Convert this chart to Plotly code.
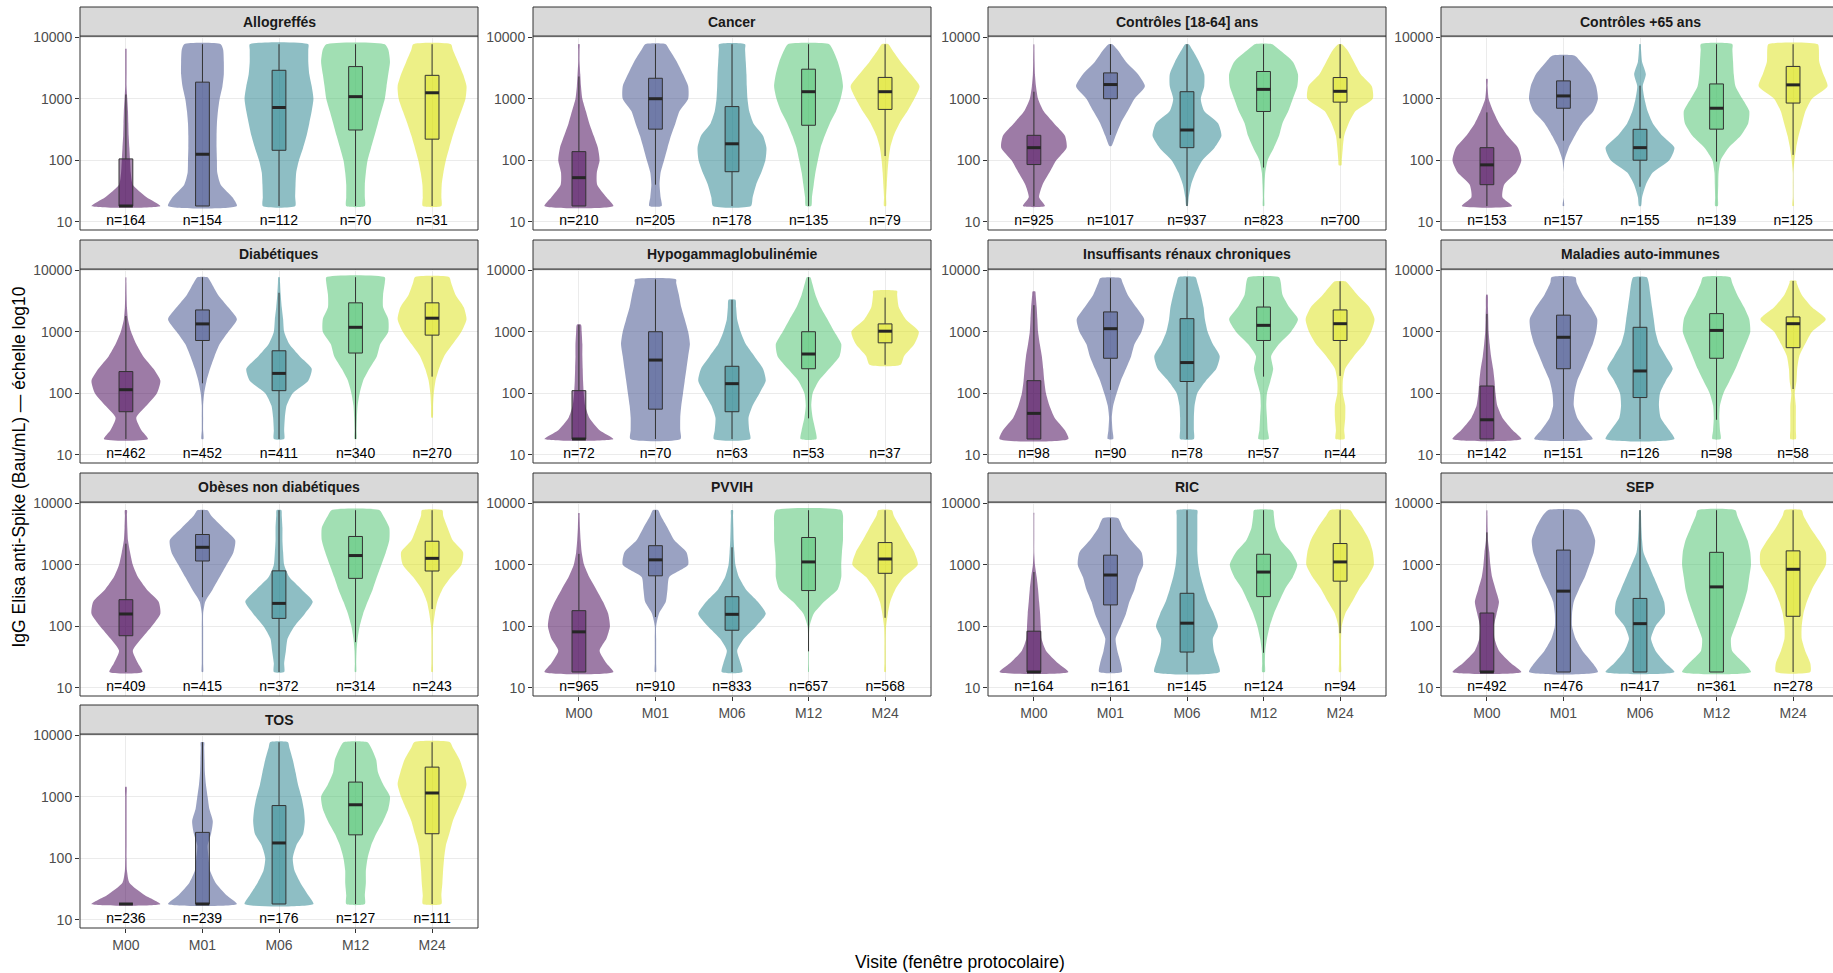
import plotly.graph_objects as go

# ---------------------------------------------------------------- data
visits = ["M00", "M01", "M06", "M12", "M24"]
groups = ["Allogreffés", "Cancer", "Contrôles [18-64] ans", "Contrôles +65 ans",
          "Diabétiques", "Hypogammaglobulinémie", "Insuffisants rénaux chroniques",
          "Maladies auto-immunes", "Obèses non diabétiques", "PVVIH", "RIC", "SEP", "TOS"]
visit_colors = ["#440154", "#3E4C8A", "#26828E", "#4AC16D", "#DCE319"]

n_obs = [
    [164, 154, 112, 70, 31],
    [210, 205, 178, 135, 79],
    [925, 1017, 937, 823, 700],
    [153, 157, 155, 139, 125],
    [462, 452, 411, 340, 270],
    [72, 70, 63, 53, 37],
    [98, 90, 78, 57, 44],
    [142, 151, 126, 98, 58],
    [409, 415, 372, 314, 243],
    [965, 910, 833, 657, 568],
    [164, 161, 145, 124, 94],
    [492, 476, 417, 361, 278],
    [236, 239, 176, 127, 111],
]

# box-plot statistics (Bau/mL)
q1 = [
    [18, 18, 145, 310, 220],
    [18, 320, 65, 370, 670],
    [85, 1000, 160, 620, 880],
    [40, 700, 100, 320, 850],
    [50, 720, 110, 450, 880],
    [18, 55, 50, 250, 660],
    [18, 370, 155, 720, 720],
    [18, 250, 85, 370, 550],
    [70, 1150, 134, 600, 790],
    [18, 660, 86, 380, 725],
    [18, 222, 38, 303, 540],
    [18, 18, 18, 18, 145],
    [18, 18, 18, 240, 250],
]
median = [
    [18, 125, 720, 1080, 1250],
    [52, 1000, 185, 1300, 1300],
    [160, 1700, 310, 1420, 1320],
    [84, 1110, 160, 700, 1680],
    [114, 1340, 210, 1180, 1660],
    [18, 346, 143, 434, 1020],
    [47, 1120, 315, 1270, 1350],
    [37, 812, 230, 1050, 1350],
    [158, 1920, 235, 1410, 1270],
    [81, 1200, 156, 1110, 1240],
    [18, 680, 112, 760, 1110],
    [18, 372, 110, 436, 843],
    [18, 18, 177, 740, 1150],
]
q3 = [
    [105, 1860, 2900, 3330, 2400],
    [138, 2150, 745, 3020, 2220],
    [254, 2630, 1300, 2770, 2210],
    [160, 1950, 318, 1740, 3350],
    [225, 2260, 490, 2950, 2950],
    [110, 1000, 274, 1000, 1340],
    [160, 2100, 1630, 2520, 2260],
    [131, 1860, 1180, 1970, 1740],
    [270, 3100, 795, 2880, 2410],
    [179, 2040, 302, 2770, 2290],
    [83, 1430, 343, 1480, 2210],
    [164, 1730, 283, 1590, 1680],
    [18, 263, 718, 1730, 3030],
]
whisker_lo = [
    [18, 18, 18, 18, 18],
    [18, 40, 18, 18, 117],
    [18, 258, 18, 76, 227],
    [18, 208, 37, 95, 122],
    [18, 145, 18, 18, 186],
    [18, 18, 18, 39, 290],
    [18, 113, 18, 186, 191],
    [18, 18, 18, 37, 117],
    [18, 296, 18, 55, 190],
    [18, 141, 18, 39, 137],
    [18, 18, 18, 37, 77],
    [18, 18, 18, 18, 18],
    [18, 18, 18, 18, 18],
]
whisker_hi = [
    [1170, 7700, 7700, 7700, 7700],
    [2300, 7700, 7700, 7700, 7700],
    [1300, 7700, 7700, 7700, 7700],
    [600, 5000, 1630, 7700, 7700],
    [1800, 7700, 4300, 7700, 7700],
    [1300, 7100, 3300, 7700, 3590],
    [2700, 7400, 7700, 7700, 6600],
    [1950, 7700, 7700, 7700, 6700],
    [2200, 7700, 7700, 7700, 7700],
    [1500, 7700, 1920, 7700, 7700],
    [760, 5700, 7700, 7700, 7700],
    [3360, 7700, 7700, 7700, 7700],
    [18, 7700, 7700, 7700, 7700],
]

# violin extent (Bau/mL)
violin_min = [
    [18, 18, 18, 18, 18],
    [18, 18, 18, 18, 18],
    [18, 170, 18, 18, 83],
    [18, 18, 18, 18, 18],
    [18, 18, 18, 18, 40],
    [18, 18, 18, 18, 290],
    [18, 18, 18, 18, 18],
    [18, 18, 18, 18, 18],
    [18, 18, 18, 18, 18],
    [18, 18, 18, 18, 18],
    [18, 18, 18, 18, 18],
    [18, 18, 18, 18, 18],
    [18, 18, 18, 18, 18],
]
violin_max = [
    [6500, 7700, 7700, 7700, 7700],
    [7700, 7700, 7700, 7700, 7700],
    [7700, 7700, 7700, 7700, 7700],
    [2100, 5000, 7700, 7700, 7700],
    [7700, 7700, 7700, 7700, 7700],
    [1300, 7100, 3300, 7700, 4600],
    [4500, 7400, 7700, 7700, 6600],
    [4000, 7700, 7700, 7700, 6700],
    [7700, 7700, 7700, 7700, 7700],
    [6900, 7700, 7700, 7700, 7700],
    [7000, 5700, 7700, 7700, 7700],
    [7700, 7700, 7700, 7700, 7700],
    [1450, 7700, 7700, 7700, 7700],
]

# density levels (Bau/mL) at which the relative violin widths are given
density_levels = [18, 25, 40, 63, 100, 160, 250, 400, 630, 1000, 1600, 2500, 4000, 6300, 7700]

w_allogreffes = [
    [1.0, 0.6, 0.2, 0.14, 0.12, 0.1, 0.08, 0.07, 0.06, 0.04, 0.02, 0.02, 0.02, 0.02, 0.02],
    [1.0, 0.87, 0.53, 0.43, 0.42, 0.41, 0.41, 0.42, 0.45, 0.5, 0.58, 0.62, 0.62, 0.6, 0.53],
    [0.47, 0.47, 0.48, 0.5, 0.58, 0.7, 0.8, 0.88, 0.95, 1.0, 0.95, 0.88, 0.85, 0.85, 0.85],
    [0.27, 0.27, 0.27, 0.3, 0.35, 0.45, 0.55, 0.65, 0.75, 0.85, 0.9, 0.95, 1.0, 0.95, 0.85],
    [0.27, 0.27, 0.28, 0.33, 0.4, 0.5, 0.6, 0.72, 0.85, 0.97, 1.0, 0.9, 0.75, 0.6, 0.55],
]
w_cancer = [
    [1.0, 0.8, 0.53, 0.52, 0.6, 0.55, 0.43, 0.3, 0.2, 0.1, 0.06, 0.04, 0.02, 0.02, 0.02],
    [0.18, 0.15, 0.12, 0.15, 0.25, 0.35, 0.45, 0.58, 0.7, 0.95, 0.95, 0.8, 0.62, 0.4, 0.3],
    [0.55, 0.6, 0.7, 0.85, 0.97, 1.0, 0.9, 0.62, 0.5, 0.45, 0.43, 0.42, 0.4, 0.38, 0.38],
    [0.08, 0.1, 0.15, 0.2, 0.27, 0.35, 0.47, 0.62, 0.8, 0.93, 1.0, 0.95, 0.85, 0.7, 0.6],
    [0.03, 0.03, 0.05, 0.07, 0.1, 0.15, 0.25, 0.42, 0.65, 0.85, 1.0, 0.75, 0.45, 0.2, 0.1],
]
w_controles_18_64 = [
    [0.32, 0.15, 0.25, 0.45, 0.65, 0.95, 0.9, 0.58, 0.28, 0.12, 0.06, 0.03, 0.02, 0.015, 0.01],
    [0, 0, 0, 0, 0, 0.03, 0.15, 0.3, 0.5, 0.7, 1.0, 0.8, 0.45, 0.2, 0.05],
    [0.02, 0.05, 0.12, 0.25, 0.45, 0.8, 1.0, 0.9, 0.5, 0.4, 0.5, 0.5, 0.35, 0.15, 0.05],
    [0.02, 0.02, 0.03, 0.05, 0.12, 0.3, 0.45, 0.55, 0.72, 0.85, 0.98, 1.0, 0.85, 0.45, 0.25],
    [0, 0, 0, 0.04, 0.05, 0.08, 0.12, 0.25, 0.45, 0.95, 0.92, 0.6, 0.4, 0.2, 0.05],
]
w_controles_65 = [
    [0.73, 0.45, 0.5, 0.85, 1.0, 0.9, 0.6, 0.35, 0.18, 0.05, 0.02, 0.02, 0, 0, 0],
    [0.02, 0.0, 0.0, 0.0, 0.03, 0.15, 0.33, 0.55, 0.87, 1.0, 0.95, 0.8, 0.5, 0.33, 0],
    [0.03, 0.06, 0.17, 0.37, 0.85, 1.0, 0.65, 0.37, 0.22, 0.13, 0.08, 0.17, 0.06, 0.03, 0.02],
    [0.04, 0.04, 0.05, 0.06, 0.12, 0.35, 0.7, 0.92, 0.95, 0.75, 0.55, 0.5, 0.48, 0.46, 0.46],
    [0.02, 0.01, 0.01, 0.01, 0.04, 0.09, 0.16, 0.26, 0.36, 0.55, 1.0, 0.88, 0.76, 0.75, 0.72],
]
w_diabetiques = [
    [0.64, 0.45, 0.3, 0.6, 0.9, 1.0, 0.8, 0.5, 0.3, 0.15, 0.06, 0.03, 0.02, 0.015, 0.01],
    [0.03, 0.02, 0.02, 0.02, 0.05, 0.12, 0.22, 0.35, 0.5, 0.75, 1.0, 0.75, 0.45, 0.25, 0.15],
    [0.15, 0.15, 0.17, 0.22, 0.4, 0.85, 0.95, 0.6, 0.3, 0.15, 0.12, 0.08, 0.05, 0.03, 0.02],
    [0.03, 0.03, 0.04, 0.06, 0.12, 0.22, 0.4, 0.62, 0.72, 0.95, 0.95, 0.8, 0.8, 0.85, 0.85],
    [0, 0, 0.02, 0.03, 0.05, 0.1, 0.2, 0.35, 0.6, 0.85, 1.0, 0.92, 0.68, 0.55, 0.5],
]
w_hypogamma = [
    [1.0, 0.6, 0.3, 0.18, 0.14, 0.12, 0.11, 0.1, 0.1, 0.08, 0.06, 0, 0, 0, 0],
    [0.73, 0.72, 0.72, 0.75, 0.8, 0.85, 0.9, 0.95, 1.0, 0.95, 0.85, 0.75, 0.68, 0.6, 0.6],
    [0.53, 0.5, 0.48, 0.6, 0.8, 0.98, 0.9, 0.65, 0.4, 0.25, 0.15, 0.12, 0.1, 0, 0],
    [0.23, 0.2, 0.12, 0.08, 0.12, 0.3, 0.6, 0.9, 0.95, 0.75, 0.55, 0.35, 0.2, 0.1, 0.05],
    [0, 0, 0, 0, 0, 0, 0.45, 0.55, 0.85, 0.98, 0.6, 0.4, 0.35, 0.35, 0],
]
w_irc = [
    [1.0, 0.9, 0.6, 0.45, 0.35, 0.3, 0.27, 0.23, 0.17, 0.12, 0.1, 0.08, 0.05, 0.04, 0],
    [0.08, 0.06, 0.04, 0.08, 0.18, 0.3, 0.45, 0.6, 0.7, 0.9, 0.98, 0.75, 0.5, 0.35, 0.3],
    [0.2, 0.2, 0.2, 0.22, 0.3, 0.55, 0.85, 0.95, 0.75, 0.6, 0.52, 0.48, 0.4, 0.3, 0.25],
    [0.15, 0.12, 0.1, 0.08, 0.1, 0.2, 0.28, 0.22, 0.45, 0.8, 1.0, 0.75, 0.55, 0.5, 0.45],
    [0.13, 0.12, 0.15, 0.15, 0.08, 0.08, 0.15, 0.4, 0.7, 0.9, 1.0, 0.85, 0.5, 0.2, 0.15],
]
w_mai = [
    [1.0, 0.75, 0.45, 0.3, 0.25, 0.22, 0.18, 0.12, 0.08, 0.05, 0.04, 0.03, 0.02, 0, 0],
    [0.85, 0.65, 0.4, 0.3, 0.32, 0.4, 0.55, 0.7, 0.85, 0.95, 0.98, 0.8, 0.55, 0.38, 0.35],
    [1.0, 0.85, 0.6, 0.55, 0.58, 0.75, 0.95, 0.75, 0.55, 0.45, 0.4, 0.35, 0.3, 0.25, 0.2],
    [0.12, 0.1, 0.08, 0.1, 0.2, 0.38, 0.55, 0.7, 0.85, 0.98, 0.95, 0.8, 0.6, 0.45, 0.4],
    [0.08, 0.08, 0.08, 0.08, 0.05, 0.1, 0.12, 0.18, 0.35, 0.55, 0.95, 0.55, 0.25, 0.1, 0.1],
]
w_obeses = [
    [0.48, 0.35, 0.2, 0.45, 0.75, 1.0, 0.95, 0.6, 0.35, 0.2, 0.12, 0.06, 0.04, 0.03, 0.03],
    [0.02, 0.02, 0.02, 0.02, 0.02, 0.02, 0.08, 0.3, 0.5, 0.7, 0.9, 0.95, 0.6, 0.25, 0.15],
    [0.15, 0.15, 0.2, 0.25, 0.45, 0.75, 0.98, 0.65, 0.3, 0.15, 0.12, 0.1, 0.1, 0.08, 0.07],
    [0.02, 0.02, 0.03, 0.06, 0.12, 0.22, 0.35, 0.5, 0.62, 0.75, 0.88, 0.98, 0.98, 0.8, 0.7],
    [0.02, 0.02, 0.02, 0.02, 0.03, 0.08, 0.15, 0.3, 0.55, 0.85, 0.9, 0.6, 0.45, 0.32, 0.3],
]
w_pvvih = [
    [1.0, 0.8, 0.6, 0.8, 0.9, 0.85, 0.7, 0.5, 0.3, 0.15, 0.08, 0.05, 0.03, 0.02, 0.02],
    [0.02, 0.02, 0.02, 0.02, 0.02, 0.1, 0.3, 0.35, 0.4, 0.95, 0.9, 0.55, 0.35, 0.15, 0.08],
    [0.3, 0.25, 0.15, 0.35, 0.7, 0.98, 0.75, 0.4, 0.2, 0.1, 0.07, 0.05, 0.04, 0.03, 0.03],
    [0.01, 0.01, 0.01, 0.01, 0.03, 0.15, 0.45, 0.85, 0.95, 0.95, 0.97, 1.0, 1.0, 1.0, 0.95],
    [0.02, 0.02, 0.02, 0.02, 0.03, 0.08, 0.15, 0.3, 0.55, 0.95, 0.85, 0.65, 0.45, 0.25, 0.2],
]
w_ric = [
    [1.0, 0.7, 0.35, 0.22, 0.2, 0.18, 0.15, 0.12, 0.08, 0.03, 0.01, 0.01, 0.01, 0.01, 0.01],
    [0.33, 0.3, 0.2, 0.15, 0.3, 0.45, 0.55, 0.7, 0.8, 0.95, 0.9, 0.6, 0.35, 0.22, 0],
    [0.95, 0.9, 0.78, 0.75, 0.9, 0.78, 0.62, 0.5, 0.4, 0.33, 0.3, 0.3, 0.3, 0.3, 0.3],
    [0.04, 0.04, 0.05, 0.1, 0.18, 0.3, 0.45, 0.62, 0.85, 0.98, 0.8, 0.5, 0.35, 0.3, 0.28],
    [0.03, 0.03, 0.03, 0.03, 0.05, 0.15, 0.35, 0.55, 0.8, 0.98, 0.95, 0.85, 0.65, 0.4, 0.3],
]
w_sep = [
    [1.0, 0.7, 0.35, 0.22, 0.2, 0.28, 0.35, 0.25, 0.15, 0.1, 0.07, 0.03, 0.02, 0.015, 0.01],
    [1.0, 0.85, 0.55, 0.35, 0.25, 0.25, 0.3, 0.45, 0.62, 0.75, 0.88, 0.92, 0.8, 0.6, 0.45],
    [1.0, 0.75, 0.45, 0.32, 0.45, 0.72, 0.7, 0.55, 0.4, 0.25, 0.1, 0.06, 0.04, 0.03, 0.02],
    [1.0, 0.8, 0.45, 0.42, 0.55, 0.68, 0.8, 0.9, 0.95, 1.0, 0.98, 0.9, 0.75, 0.6, 0.55],
    [0.5, 0.5, 0.35, 0.25, 0.25, 0.3, 0.4, 0.55, 0.75, 0.95, 0.95, 0.75, 0.5, 0.3, 0.25],
]
w_tos = [
    [1.0, 0.55, 0.1, 0.03, 0.02, 0.02, 0.02, 0.02, 0.02, 0.02, 0.02, 0, 0, 0, 0],
    [1.0, 0.7, 0.38, 0.22, 0.18, 0.15, 0.25, 0.3, 0.2, 0.15, 0.1, 0.07, 0.06, 0.05, 0.05],
    [1.0, 0.85, 0.62, 0.45, 0.4, 0.5, 0.7, 0.75, 0.72, 0.65, 0.55, 0.48, 0.4, 0.3, 0.26],
    [0.27, 0.27, 0.3, 0.3, 0.35, 0.45, 0.6, 0.8, 0.95, 1.0, 0.8, 0.65, 0.6, 0.45, 0.35],
    [0.27, 0.27, 0.3, 0.32, 0.35, 0.4, 0.5, 0.6, 0.75, 0.9, 1.0, 0.92, 0.8, 0.6, 0.52],
]
violin_widths = [w_allogreffes, w_cancer, w_controles_18_64, w_controles_65, w_diabetiques,
                 w_hypogamma, w_irc, w_mai, w_obeses, w_pvvih, w_ric, w_sep, w_tos]

# ---------------------------------------------------------------- layout geometry (px)
W, H = 1833, 973
COL_X0 = [80, 533, 988, 1441]
ROW_Y0 = [36, 269, 502, 734]
PANEL_W, PANEL_H, STRIP_H = 398, 194, 29
X_RANGE = (0.4, 5.6)
PX_PER_UNIT = PANEL_W / (X_RANGE[1] - X_RANGE[0])
Y_RANGE = [0.865, 4.02]
VIOLIN_HALF = 0.45
BOX_HALF = 0.09
FONT = "Liberation Sans, Arial, sans-serif"
EDGE = "#333333"


def rgba(hex_color, alpha):
    h = hex_color.lstrip("#")
    r, g, b = int(h[0:2], 16), int(h[2:4], 16), int(h[4:6], 16)
    return f"rgba({r},{g},{b},{alpha})"


def violin_outline(widths, vmin, vmax):
    """Levels and relative widths of a trimmed violin between vmin and vmax."""
    lv = density_levels
    i0 = max(i for i, v in enumerate(lv) if v <= vmin)
    i1 = min(i for i, v in enumerate(lv) if v >= vmax)
    ys = [vmin] + lv[i0 + 1:i1] + [vmax]
    ws = [widths[i0]] + widths[i0 + 1:i1] + [widths[i1]]
    return ys, ws


def px(x):
    return x / W


def py(y):
    return 1 - y / H


fig = go.Figure()
layout = dict(
    width=W, height=H, autosize=False,
    margin=dict(l=0, r=0, t=0, b=0, pad=0, autoexpand=False),
    paper_bgcolor="white", plot_bgcolor="white",
    showlegend=False,
    font=dict(family=FONT),
)
shapes, annotations = [], []

n_groups = len(groups)
for k, g in enumerate(groups):
    r, c = divmod(k, 4)
    sfx = "" if k == 0 else str(k + 1)
    xa, ya = "x" + sfx, "y" + sfx

    x0 = COL_X0[c]
    x1 = min(x0 + PANEL_W, W)
    top = ROW_Y0[r]
    bottom = top + PANEL_H
    xr = [X_RANGE[0], X_RANGE[0] + (x1 - x0) / PX_PER_UNIT]
    is_bottom = (k + 4) >= n_groups

    layout["xaxis" + sfx] = dict(
        domain=[px(x0), px(x1)], anchor=ya, range=xr, automargin=False,
        tickmode="array", tickvals=[1, 2, 3, 4, 5], ticktext=visits,
        showticklabels=is_bottom, ticks="outside" if is_bottom else "",
        ticklen=4, tickcolor=EDGE, tickwidth=1,
        tickfont=dict(size=14, color="#4D4D4D", family=FONT),
        showgrid=True, gridcolor="#EBEBEB", gridwidth=1,
        zeroline=False, showline=False, fixedrange=True,
    )
    layout["yaxis" + sfx] = dict(
        domain=[py(bottom), py(top)], anchor=xa, type="log", range=Y_RANGE,
        automargin=False,
        tickmode="array", tickvals=[10, 100, 1000, 10000],
        ticktext=["10", "100", "1000", "10000"],
        ticks="outside", ticklen=4, tickcolor=EDGE, tickwidth=1,
        tickfont=dict(size=14, color="#4D4D4D", family=FONT),
        showgrid=True, gridcolor="#EBEBEB", gridwidth=1,
        zeroline=False, showline=False, fixedrange=True,
    )

    # violins
    for j in range(5):
        pos = j + 1
        ys, ws = violin_outline(violin_widths[k][j], violin_min[k][j], violin_max[k][j])
        xs = [pos + VIOLIN_HALF * w for w in ws] + [pos - VIOLIN_HALF * w for w in ws[::-1]]
        yy = ys + ys[::-1]
        fig.add_trace(go.Scatter(
            x=xs + [xs[0]], y=yy + [yy[0]], mode="lines", fill="toself",
            fillcolor=rgba(visit_colors[j], 0.52),
            line=dict(width=0, shape="spline", smoothing=0.6),
            hoverinfo="skip", xaxis=xa, yaxis=ya))

    # whiskers
    wx, wy = [], []
    for j in range(5):
        pos = j + 1
        wx += [pos, pos, None, pos, pos, None]
        wy += [q3[k][j], whisker_hi[k][j], None, q1[k][j], whisker_lo[k][j], None]
    fig.add_trace(go.Scatter(x=wx, y=wy, mode="lines", line=dict(color=EDGE, width=1),
                             hoverinfo="skip", xaxis=xa, yaxis=ya))

    # boxes
    for j in range(5):
        pos = j + 1
        bx = [pos - BOX_HALF, pos + BOX_HALF, pos + BOX_HALF, pos - BOX_HALF, pos - BOX_HALF]
        by = [q1[k][j], q1[k][j], q3[k][j], q3[k][j], q1[k][j]]
        fig.add_trace(go.Scatter(
            x=bx, y=by, mode="lines", fill="toself",
            fillcolor=rgba(visit_colors[j], 0.45), line=dict(color=EDGE, width=1),
            hoverinfo="skip", xaxis=xa, yaxis=ya))

    # medians
    mx, my = [], []
    for j in range(5):
        pos = j + 1
        mx += [pos - BOX_HALF, pos + BOX_HALF, None]
        my += [median[k][j], median[k][j], None]
    fig.add_trace(go.Scatter(x=mx, y=my, mode="lines", line=dict(color="#262626", width=3),
                             hoverinfo="skip", xaxis=xa, yaxis=ya))

    # sample sizes
    fig.add_trace(go.Scatter(
        x=[1, 2, 3, 4, 5], y=[10] * 5, mode="text",
        text=[f"n={v}" for v in n_obs[k]],
        textfont=dict(size=14, color="#000000", family=FONT),
        textposition="middle center", hoverinfo="skip", xaxis=xa, yaxis=ya))

    # panel border and strip
    shapes.append(dict(type="rect", xref="paper", yref="paper", layer="above",
                       x0=px(x0), x1=px(x0 + PANEL_W), y0=py(bottom), y1=py(top),
                       line=dict(color=EDGE, width=1), fillcolor="rgba(0,0,0,0)"))
    shapes.append(dict(type="rect", xref="paper", yref="paper", layer="above",
                       x0=px(x0), x1=px(x0 + PANEL_W), y0=py(top), y1=py(top - STRIP_H),
                       line=dict(color=EDGE, width=1), fillcolor="#D9D9D9"))
    annotations.append(dict(
        text=g, xref="paper", yref="paper",
        x=px(x0 + PANEL_W / 2), y=py(top - STRIP_H / 2),
        xanchor="center", yanchor="middle", showarrow=False,
        font=dict(size=14, color="#1A1A1A", family=FONT, weight="bold")))

# axis titles
annotations.append(dict(
    text="Visite (fenêtre protocolaire)", xref="paper", yref="paper",
    x=px((COL_X0[0] + COL_X0[3] + PANEL_W) / 2), y=py(962),
    xanchor="center", yanchor="middle", showarrow=False,
    font=dict(size=17.5, color="#000000", family=FONT)))
annotations.append(dict(
    text="IgG Elisa anti-Spike (Bau/mL) — échelle log10", xref="paper", yref="paper",
    x=px(18), y=py((ROW_Y0[0] - STRIP_H + ROW_Y0[3] + PANEL_H) / 2),
    xanchor="center", yanchor="middle", showarrow=False, textangle=-90,
    font=dict(size=17.5, color="#000000", family=FONT)))

layout["shapes"] = shapes
layout["annotations"] = annotations
fig.update_layout(**layout)

fig.write_html("out.html")
